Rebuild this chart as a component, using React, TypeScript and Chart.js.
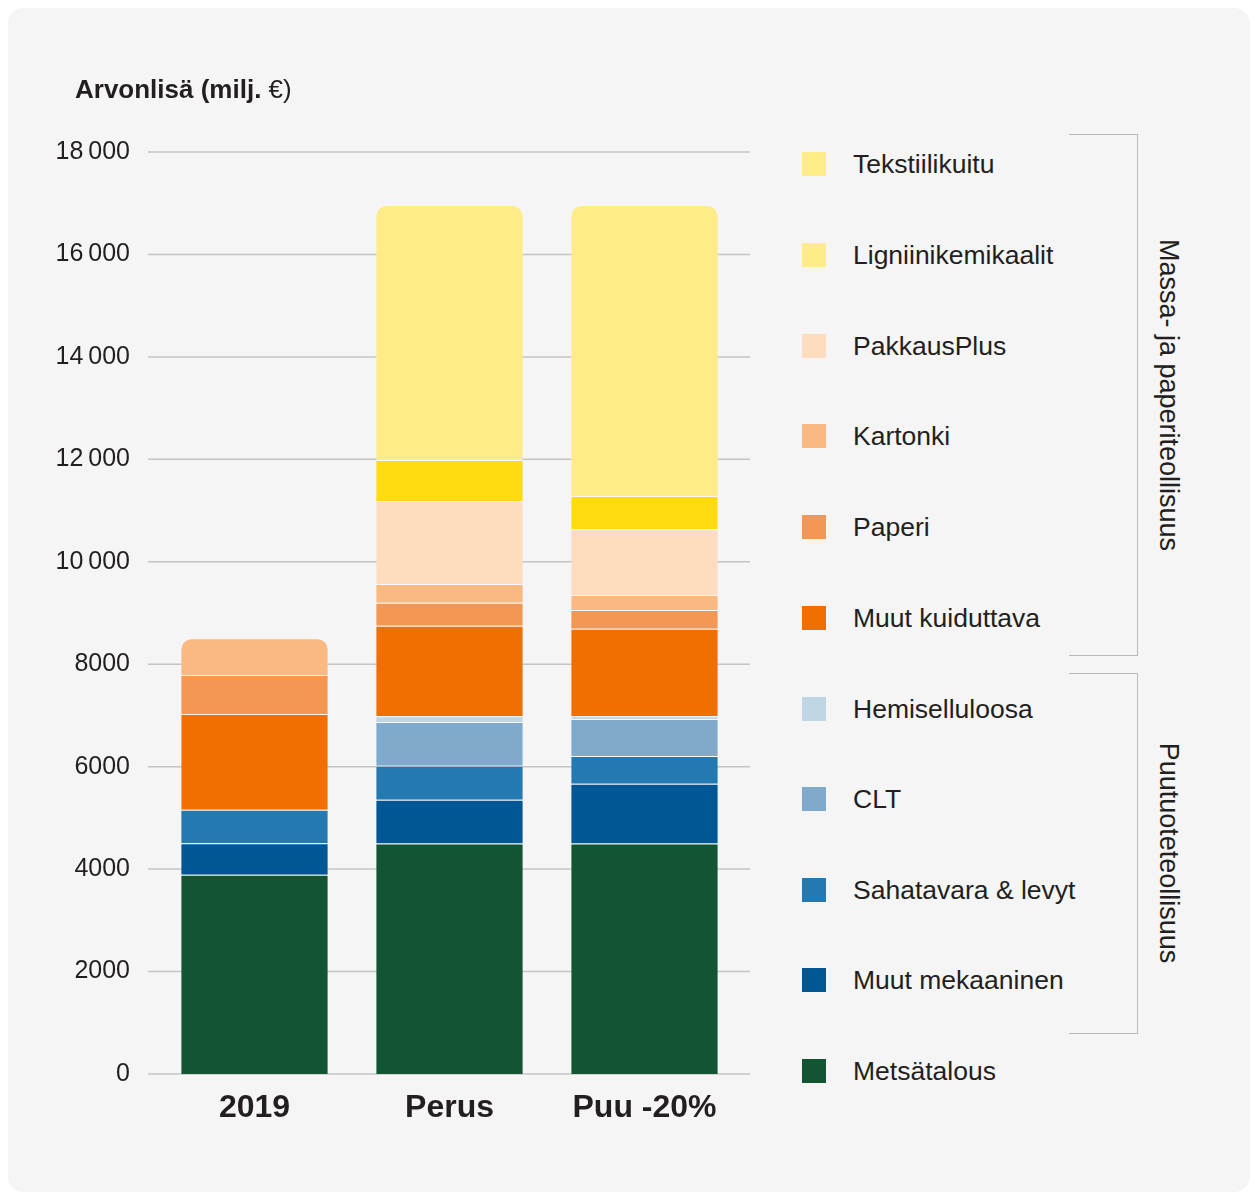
import React, { useEffect, useRef } from "react";
import { Chart, registerables } from "chart.js";

Chart.register(...registerables);

// ---------- data ----------
const categories = ["2019", "Perus", "Puu -20%"];

const metsatalous = [3890, 4500, 4500];
const muutMekaaninen = [615, 856, 1168];
const sahatavara = [656, 664, 541];
const clt = [0, 852, 722];
const hemiselluloosa = [0, 111, 52];
const muutKuiduttava = [1868, 1770, 1711];
const paperi = [762, 449, 365];
const kartonki = [716, 365, 293];
const pakkausPlus = [0, 1620, 1282];
const ligniinikemikaalit = [0, 801, 651];
const tekstiilikuitu = [0, 4978, 5681];

const yTicks = [0, 2000, 4000, 6000, 8000, 10000, 12000, 14000, 16000, 18000];
const yTickLabels = [
  "0",
  "2000",
  "4000",
  "6000",
  "8000",
  "10\u2009000",
  "12\u2009000",
  "14\u2009000",
  "16\u2009000",
  "18\u2009000",
];

const titleBold = "Arvonlisä (milj. ";
const titleRegular = "€)";

const groupTop = "Massa- ja paperiteollisuus";
const groupBottom = "Puutuoteteollisuus";

// series bottom -> top
const seriesNames = [
  "Metsätalous",
  "Muut mekaaninen",
  "Sahatavara & levyt",
  "CLT",
  "Hemiselluloosa",
  "Muut kuiduttava",
  "Paperi",
  "Kartonki",
  "PakkausPlus",
  "Ligniinikemikaalit",
  "Tekstiilikuitu",
];
const seriesValues = [
  metsatalous,
  muutMekaaninen,
  sahatavara,
  clt,
  hemiselluloosa,
  muutKuiduttava,
  paperi,
  kartonki,
  pakkausPlus,
  ligniinikemikaalit,
  tekstiilikuitu,
];
const seriesColors = [
  "#135532",
  "#015794",
  "#2479b0",
  "#80aacb",
  "#c0d6e5",
  "#f06f00",
  "#f49752",
  "#fab981",
  "#fedcc0",
  "#ffdc12",
  "#ffeb88",
];
// legend swatches as shown in the legend (top -> bottom)
const legendLabels = [
  "Tekstiilikuitu",
  "Ligniinikemikaalit",
  "PakkausPlus",
  "Kartonki",
  "Paperi",
  "Muut kuiduttava",
  "Hemiselluloosa",
  "CLT",
  "Sahatavara & levyt",
  "Muut mekaaninen",
  "Metsätalous",
];
const legendColors = [
  "#ffeb88",
  "#ffeb88",
  "#fedcc0",
  "#fab981",
  "#f49752",
  "#f06f00",
  "#c0d6e5",
  "#80aacb",
  "#2479b0",
  "#015794",
  "#135532",
];

const FONT = "'Liberation Sans', Arial, Helvetica, sans-serif";
const TEXT = "#231f20";

const gridPlugin = {
  id: "extendedGrid",
  beforeDatasetsDraw(chart: any) {
    const { ctx, chartArea, scales } = chart;
    const y = scales.y;
    ctx.save();
    ctx.strokeStyle = "#c4c4c4";
    ctx.lineWidth = 1.5;
    for (const v of yTicks) {
      const py = y.getPixelForValue(v);
      ctx.beginPath();
      ctx.moveTo(chartArea.left - 9, py);
      ctx.lineTo(chartArea.right + 8, py);
      ctx.stroke();
    }
    ctx.restore();
  },
};

function ChartCanvas() {
  const ref = useRef<HTMLCanvasElement | null>(null);
  useEffect(() => {
    if (!ref.current) return;
    const isTop = (dsIndex: number, i: number) => {
      if (!(seriesValues[dsIndex][i] > 0)) return false;
      for (let k = dsIndex + 1; k < seriesValues.length; k++) {
        if (seriesValues[k][i] > 0) return false;
      }
      return true;
    };
    const chart = new Chart(ref.current, {
      type: "bar",
      data: {
        labels: categories,
        datasets: seriesNames.map((name, di) => ({
          label: name,
          data: seriesValues[di],
          backgroundColor: seriesColors[di],
          borderColor: "rgba(255,255,255,0.22)",
          borderWidth: (c: any) => (seriesValues[di][c.dataIndex] > 0 ? 1 : 0),
          borderRadius: (c: any) =>
            isTop(di, c.dataIndex)
              ? { topLeft: 11, topRight: 11, bottomLeft: 0, bottomRight: 0 }
              : 0,
          borderSkipped: "start",
          barPercentage: 0.76,
          categoryPercentage: 1,
        })),
      },
      options: {
        responsive: false,
        animation: false,
        devicePixelRatio: 1,
        layout: { padding: { left: 0, right: 56, top: 144, bottom: 0 } },
        plugins: {
          legend: { display: false },
          tooltip: { enabled: false },
        },
        scales: {
          x: {
            stacked: true,
            grid: { display: false },
            border: { display: false },
            ticks: {
              color: TEXT,
              padding: 7,
              font: { family: FONT, size: 32, weight: "bold" },
            },
            afterFit: (s: any) => {
              s.height = 118;
            },
          },
          y: {
            stacked: true,
            min: 0,
            max: 18000,
            grid: { display: false },
            border: { display: false },
            ticks: {
              stepSize: 2000,
              color: TEXT,
              padding: 19,
              font: { family: FONT, size: 25 },
              callback: (v: any) => {
                const idx = yTicks.indexOf(Number(v));
                return idx >= 0 ? yTickLabels[idx] : "";
              },
            },
            afterFit: (s: any) => {
              s.width = 149;
            },
          },
        },
      },
      plugins: [gridPlugin],
    } as any);
    return () => chart.destroy();
  }, []);
  return (
    <canvas
      ref={ref}
      width={790}
      height={1184}
      style={{ position: "absolute", left: 0, top: 0, width: 790, height: 1184 }}
    />
  );
}

export default function App() {
  const rowY = [156, 247, 338, 428, 519, 610, 701, 791, 882, 972, 1063];
  return (
    <div
      style={{
        position: "relative",
        width: 1242,
        height: 1184,
        background: "#f5f5f5",
        borderRadius: 16,
        fontFamily: FONT,
        color: TEXT,
        overflow: "hidden",
      }}
    >
      <ChartCanvas />
      <div
        style={{
          position: "absolute",
          left: 67,
          top: 81,
          transform: "translateY(-50%)",
          fontSize: 26,
          whiteSpace: "nowrap",
          lineHeight: 1,
        }}
      >
        <span style={{ fontWeight: "bold" }}>{titleBold}</span>
        <span>{titleRegular}</span>
      </div>
      {legendLabels.map((lab, i) => (
        <div key={lab}>
          <div
            style={{
              position: "absolute",
              left: 794,
              top: rowY[i] - 12,
              width: 24,
              height: 24,
              background: legendColors[i],
            }}
          />
          <div
            style={{
              position: "absolute",
              left: 845,
              top: rowY[i],
              transform: "translateY(-50%)",
              fontSize: 26.5,
              lineHeight: 1,
              whiteSpace: "nowrap",
            }}
          >
            {lab}
          </div>
        </div>
      ))}
      {/* brackets */}
      <div
        style={{
          position: "absolute",
          left: 1061,
          top: 126,
          width: 68,
          height: 520,
          borderTop: "1.5px solid #b8b8b8",
          borderRight: "1.5px solid #b8b8b8",
          borderBottom: "1.5px solid #b8b8b8",
        }}
      />
      <div
        style={{
          position: "absolute",
          left: 1061,
          top: 665,
          width: 68,
          height: 359,
          borderTop: "1.5px solid #b8b8b8",
          borderRight: "1.5px solid #b8b8b8",
          borderBottom: "1.5px solid #b8b8b8",
        }}
      />
      <div
        style={{
          position: "absolute",
          left: 1160,
          top: 387,
          transform: "translate(-50%, -50%) rotate(90deg)",
          fontSize: 27,
          lineHeight: 1,
          whiteSpace: "nowrap",
        }}
      >
        {groupTop}
      </div>
      <div
        style={{
          position: "absolute",
          left: 1160,
          top: 845,
          transform: "translate(-50%, -50%) rotate(90deg)",
          fontSize: 27,
          lineHeight: 1,
          whiteSpace: "nowrap",
        }}
      >
        {groupBottom}
      </div>
    </div>
  );
}
